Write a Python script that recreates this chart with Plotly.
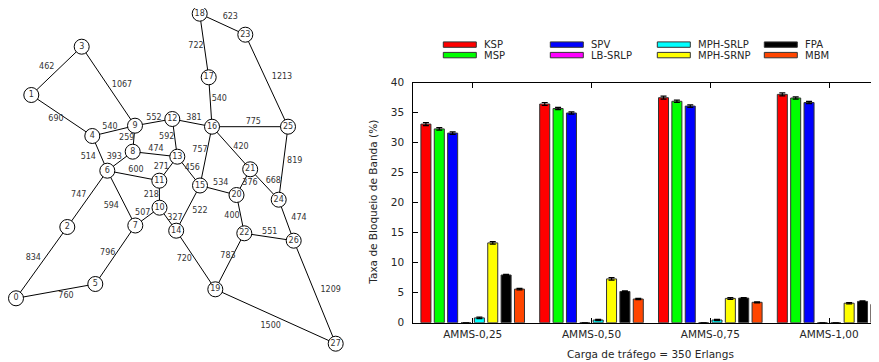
import plotly.graph_objects as go

# ---------------- Bar chart data ----------------
groups = ["AMMS-0,25", "AMMS-0,50", "AMMS-0,75", "AMMS-1,00"]
series_names = ["KSP", "MSP", "SPV", "LB-SRLP", "MPH-SRLP", "MPH-SRNP", "FPA", "MBM"]
ksp = [33.1, 36.45, 37.5, 38.05]
msp = [32.3, 35.7, 36.9, 37.45]
spv = [31.6, 34.95, 36.1, 36.7]
lb_srlp = [0.0, 0.0, 0.0, 0.0]
mph_srlp = [0.8, 0.45, 0.45, 0.0]
mph_srnp = [13.3, 7.3, 4.05, 3.25]
fpa = [7.95, 5.2, 4.1, 3.55]
mbm = [5.6, 3.95, 3.4, 3.05]
err_ksp = [0.25, 0.25, 0.25, 0.25]
err_msp = [0.2, 0.2, 0.2, 0.2]
err_spv = [0.2, 0.2, 0.2, 0.2]
err_lb = [0.0, 0.0, 0.0, 0.0]
err_mphlp = [0.12, 0.1, 0.1, 0.0]
err_mphnp = [0.2, 0.2, 0.15, 0.12]
err_fpa = [0.12, 0.1, 0.1, 0.1]
err_mbm = [0.12, 0.1, 0.08, 0.08]
y_ticks = [0, 5, 10, 15, 20, 25, 30, 35, 40]

series_values = [ksp, msp, spv, lb_srlp, mph_srlp, mph_srnp, fpa, mbm]
series_errors = [err_ksp, err_msp, err_spv, err_lb, err_mphlp, err_mphnp, err_fpa, err_mbm]
series_colors = ["#ff0000", "#00ff00", "#0000ff", "#ff00ff", "#00ffff", "#ffff00", "#000000", "#ff4500"]

# ---------------- Network data ----------------
node_xy = {
    0: (16, 298.3), 1: (31.3, 95), 2: (67.3, 227), 3: (81.7, 46.7),
    4: (92.3, 136), 5: (95.3, 284), 6: (107.3, 170.7), 7: (135.3, 225.5),
    8: (132.7, 151.7), 9: (135, 125.7), 10: (159.5, 207.7), 11: (159.3, 180.7),
    12: (172.3, 119), 13: (177.3, 156.7), 14: (176.2, 230.7), 15: (200, 185.5),
    16: (212, 126.7), 17: (208.7, 77.3), 18: (199.7, 13.7), 19: (215.3, 289.3),
    20: (236.5, 195), 21: (250.2, 169.3), 22: (244.3, 233.3), 23: (245.3, 34.7),
    24: (278.7, 199.7), 25: (288, 126.7), 26: (293.7, 240.7), 27: (335.7, 343.7),
}
edges = [(1, 3), (3, 9), (1, 4), (4, 9), (9, 12), (9, 8), (12, 13), (8, 13),
         (4, 6), (6, 8), (6, 11), (13, 11), (13, 15), (6, 2), (6, 7), (11, 10),
         (10, 7), (10, 14), (2, 0), (7, 5), (0, 5), (18, 23), (18, 17), (23, 25),
         (17, 16), (12, 16), (16, 25), (16, 15), (16, 21), (25, 24), (21, 24),
         (21, 20), (15, 20), (15, 14), (20, 22), (22, 26), (24, 26), (22, 19),
         (14, 19), (26, 27), (19, 27)]
edge_weights = [462, 1067, 690, 540, 552, 259, 592, 474,
                514, 393, 600, 271, 456, 747, 594, 218,
                507, 327, 834, 796, 760, 623, 722, 1213,
                540, 381, 775, 757, 420, 819, 668,
                376, 534, 522, 400, 551, 474, 783,
                720, 1209, 1500]
edge_label_xy = [(46.7, 66.7), (122, 85), (56, 119.3), (110, 126.7), (154, 118), (126.7, 138.3),
                 (166.7, 136.7), (156, 149), (88.3, 156.7), (114.3, 156.7), (136, 170),
                 (161.3, 166.7), (192.3, 167.7), (78.7, 194.7), (111.3, 206), (151.3, 194.7),
                 (142.7, 212.7), (175, 217.7), (33.3, 258), (107.7, 252.7), (66, 296),
                 (230.3, 16.7), (196, 46), (282, 77), (219.3, 99), (194, 118), (253.3, 122),
                 (200, 150), (241, 146.7), (294.7, 161), (273.3, 181), (250, 183.3),
                 (220.7, 183.3), (200, 211), (232, 216), (269.7, 232), (299, 218),
                 (228, 256), (184.3, 259), (330.7, 289.7), (270.7, 325.7)]

W, H = 879, 362
OX, OY = 8, 8   # page offset of the figure div (default body margin)
FONT = "DejaVu Sans, Verdana, sans-serif"
TXT = "#262626"

def px(x):
    # screen x (reference pixels) -> paper fraction
    return (x - OX) / W

def py(y):
    # screen y (reference pixels) -> paper fraction
    return (H - (y - OY)) / H

fig = go.Figure()

# ---- bars ----
for name, vals, errs, col in zip(series_names, series_values, series_errors, series_colors):
    fig.add_trace(go.Bar(
        x=groups, y=vals, name=name,
        marker=dict(color=col, line=dict(color="#333333", width=1)),
        error_y=dict(type="data", array=errs, visible=True, color="#000000",
                     thickness=1.2, width=3),
        showlegend=False, xaxis="x", yaxis="y",
    ))

# ---- network edges ----
ex, ey = [], []
for (u, v) in edges:
    ex += [node_xy[u][0], node_xy[v][0], None]
    ey += [node_xy[u][1], node_xy[v][1], None]
fig.add_trace(go.Scatter(x=ex, y=ey, mode="lines", line=dict(color="#000000", width=1),
                         hoverinfo="skip", showlegend=False, xaxis="x2", yaxis="y2"))
fig.add_trace(go.Scatter(
    x=[p[0] for p in edge_label_xy], y=[p[1] for p in edge_label_xy],
    mode="text", text=[str(w) for w in edge_weights],
    textfont=dict(family=FONT, size=8, color="#333333"),
    showlegend=False, xaxis="x2", yaxis="y2"))
nodes = sorted(node_xy)
fig.add_trace(go.Scatter(
    x=[node_xy[n][0] for n in nodes], y=[node_xy[n][1] for n in nodes],
    mode="markers+text", text=[str(n) for n in nodes], textposition="middle center",
    marker=dict(size=15, color="#ffffff", line=dict(color="#000000", width=1)),
    textfont=dict(family=FONT, size=8, color="#333333"),
    showlegend=False, xaxis="x2", yaxis="y2", cliponaxis=False))

# ---- manual legend ----
shapes, annotations = [], []
for i, (name, col) in enumerate(zip(series_names, series_colors)):
    c, r = i // 2, i % 2
    left = 443.3 + c * 107
    yc = 44.6 + r * 10.5
    shapes.append(dict(type="rect", xref="paper", yref="paper",
                       x0=px(left), x1=px(left + 33), y0=py(yc + 2.7), y1=py(yc - 2.7),
                       fillcolor=col, line=dict(color="#333333", width=1)))
    annotations.append(dict(xref="paper", yref="paper", x=px(left + 39.5), y=py(yc),
                            xanchor="left", yanchor="middle", text=name, showarrow=False,
                            borderpad=0,
                            font=dict(family=FONT, size=10, color=TXT)))

annotations.append(dict(xref="paper", yref="paper", x=px(650.5), y=py(354),
                        xanchor="center", yanchor="middle", showarrow=False, borderpad=0,
                        text="Carga de tráfego = 350 Erlangs",
                        font=dict(family=FONT, size=10.5, color=TXT)))
annotations.append(dict(xref="paper", yref="paper", x=px(373), y=py(202.7),
                        xanchor="center", yanchor="middle", showarrow=False, textangle=-90,
                        borderpad=0,
                        text="Taxa de Bloqueio de Banda (%)",
                        font=dict(family=FONT, size=10.5, color=TXT)))

# bar plot frame (reference pixels): left 413.3, top 82.7, bottom 322.7, group pitch 118.8
x_left, x_right = 413.3, W + OX
pitch = 118.8
x_hi = -0.5 + (x_right - x_left) / pitch

fig.update_layout(
    width=W, height=H, margin=dict(l=0, r=0, t=0, b=0, autoexpand=False),
    paper_bgcolor="#ffffff", plot_bgcolor="#ffffff",
    barmode="group", bargap=0.1, bargroupgap=0.25,
    font=dict(family=FONT, size=10.5, color=TXT),
    shapes=shapes, annotations=annotations,
    xaxis=dict(domain=[px(x_left), 1.0], range=[-0.5, x_hi], showgrid=False, zeroline=False,
               showline=True, linecolor="#000000", linewidth=1, mirror="ticks",
               ticks="inside", ticklen=5, tickcolor="#000000",
               tickfont=dict(family=FONT, size=10.5, color=TXT), ticklabelstandoff=2,
               anchor="y", fixedrange=True, automargin=False),
    yaxis=dict(domain=[py(322.7), py(82.7)], range=[0, 40], tickvals=y_ticks,
               showgrid=False, zeroline=False, showline=True, linecolor="#000000", linewidth=1,
               mirror="ticks", ticks="inside", ticklen=5, tickcolor="#000000",
               tickfont=dict(family=FONT, size=10.5, color=TXT), ticklabelstandoff=6,
               anchor="x", fixedrange=True, automargin=False),
    xaxis2=dict(domain=[0, px(368)], range=[OX, 368], visible=False, anchor="y2",
                fixedrange=True, automargin=False),
    yaxis2=dict(domain=[0, 1], range=[H + OY, OY], visible=False, anchor="x2",
                fixedrange=True, automargin=False),
)

fig.write_html("out.html")
